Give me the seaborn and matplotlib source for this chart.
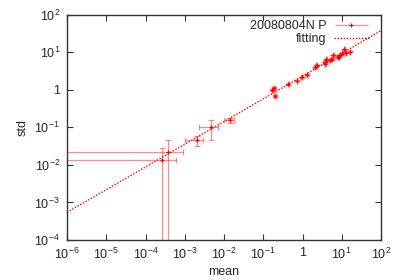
import numpy as np
import pandas as pd
import seaborn as sns
import matplotlib.pyplot as plt
from matplotlib.ticker import FixedLocator, FuncFormatter, NullLocator
from matplotlib.container import ErrorbarContainer
from matplotlib.legend_handler import HandlerErrorbar

# data
mean_vals = [3.8e-4, 2.6e-4, 2.0e-3, 4.7e-3, 0.0142,
             0.170, 0.188, 0.199, 0.434, 0.724, 0.955, 1.30, 2.08, 2.30,
             3.74, 4.04, 3.85, 5.55, 6.1, 5.0, 7.9, 9.0, 10.3, 11.6, 12.6, 16.2, 8.5]
std_vals = [0.0216, 0.0138, 0.045, 0.10, 0.157,
            0.99, 1.12, 0.67, 1.40, 1.75, 2.15, 2.52, 3.97, 4.57,
            5.6, 6.5, 5.0, 6.5, 8.45, 6.2, 7.3, 8.45, 9.4, 12.0, 9.7, 10.4, 7.7]
mean_err = [5.4e-4, 3.4e-4, 1.0e-3, 2.4e-3, 0.004,
            0.006, 0.006, 0.007, 0.012, 0.02, 0.025, 0.03, 0.05, 0.05,
            0.08, 0.08, 0.08, 0.1, 0.12, 0.1, 0.15, 0.15, 0.2, 0.2, 0.2, 0.25, 0.15]
std_err = [0.0236, 0.014, 0.014, 0.055, 0.025,
           0.06, 0.06, 0.04, 0.05, 0.06, 0.07, 0.08, 0.12, 0.12,
           0.15, 0.18, 0.15, 0.18, 0.25, 0.18, 0.2, 0.25, 0.25, 0.3, 0.25, 0.25, 0.2]

fit_a = 2.31
fit_b = 0.605
fit_x = [1e-6, 1e2]

sns.set_style('ticks')
plt.rcParams['font.family'] = ['Liberation Sans', 'DejaVu Sans']
plt.rcParams['mathtext.default'] = 'regular'
plt.rcParams['font.size'] = 9

fig = plt.figure(figsize=(4, 2.8), dpi=100)
ax = fig.add_axes([0.1675, 0.143, 0.785, 0.8045])
ax.set_xscale('log')
ax.set_yscale('log')

fit_df = pd.DataFrame({'x': fit_x, 'y': [fit_a * v ** fit_b for v in fit_x]})

err_style = dict(fmt='+', color='#ff0000', ecolor=(1, 0, 0, 0.45), elinewidth=0.9,
                 capsize=2, capthick=0.9, markersize=3, markeredgewidth=0.9)
ax.errorbar(mean_vals, std_vals, xerr=mean_err, yerr=std_err, **err_style)
# legend proxy: horizontal bar only, like the reference key
ax.errorbar([], [], xerr=[], label='20080804N P', **err_style)
sns.lineplot(data=fit_df, x='x', y='y', ax=ax, color='red', linestyle=(0, (1, 1.2)),
             linewidth=1.0, label='fitting')

ax.set_xlim(1e-6, 1e2)
ax.set_ylim(1e-4, 1e2)


def fmt(v, pos):
    n = int(round(np.log10(v)))
    return '1' if n == 0 else '$10^{%d}$' % n


ax.xaxis.set_major_locator(FixedLocator([10.0 ** k for k in range(-6, 3)]))
ax.yaxis.set_major_locator(FixedLocator([10.0 ** k for k in range(-4, 3)]))
ax.xaxis.set_minor_locator(NullLocator())
ax.yaxis.set_minor_locator(NullLocator())
ax.xaxis.set_major_formatter(FuncFormatter(fmt))
ax.yaxis.set_major_formatter(FuncFormatter(fmt))
ax.tick_params(direction='in', top=True, right=True, length=4, width=0.8,
               color='#333333', labelsize=9, pad=5)
for s in ax.spines.values():
    s.set_linewidth(1.0)
    s.set_color('#333333')
    s.set_visible(True)

ax.set_xlabel('mean', fontsize=9, labelpad=3)
ax.set_ylabel('std', fontsize=9, labelpad=4)

handles, labels = ax.get_legend_handles_labels()
order = [labels.index('20080804N P'), labels.index('fitting')]
ax.legend([handles[i] for i in order], [labels[i] for i in order],
          loc='upper right', bbox_to_anchor=(0.985, 1.01), frameon=False,
          markerfirst=False, fontsize=9, handlelength=2.8, borderaxespad=0.2,
          labelspacing=0.1, handletextpad=0.6,
          handler_map={ErrorbarContainer: HandlerErrorbar(xerr_size=1.3)})

fig.savefig('out.png', dpi=100)
